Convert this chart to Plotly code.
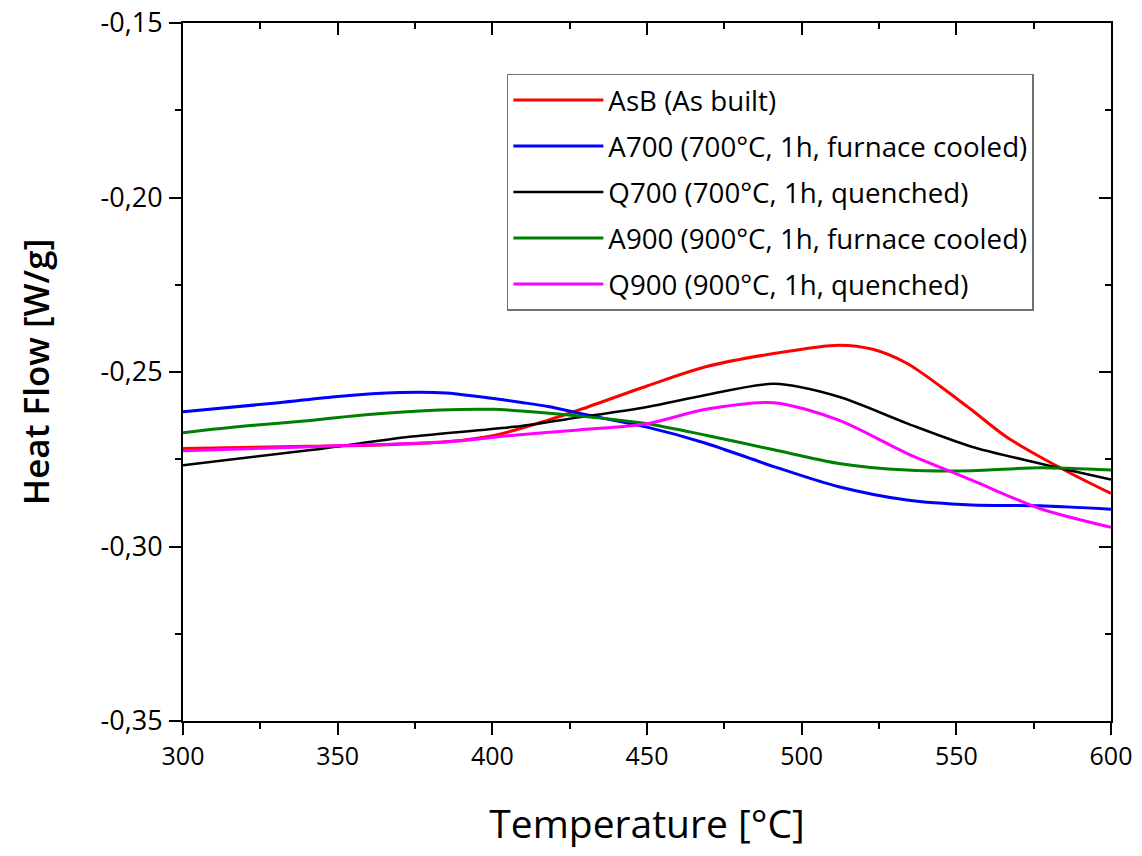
import plotly.graph_objects as go

# ---- data (Temperature in °C, Heat Flow in W/g) ----
T_asb = [300, 340, 364, 385, 401, 418, 428, 450, 469, 491, 512, 523, 534, 545, 555, 566, 577, 588, 600]
HF_asb = [-0.2719, -0.2713, -0.2709, -0.2700, -0.2681, -0.2638, -0.2609, -0.2540, -0.2485, -0.2447,
          -0.2423, -0.2435, -0.2475, -0.2542, -0.2609, -0.2685, -0.2743, -0.2795, -0.2848]

T_a700 = [300, 331, 350, 370, 385, 396, 410, 418, 428, 440, 450, 469, 491, 512, 534, 555, 577, 600]
HF_a700 = [-0.2614, -0.2588, -0.2570, -0.2559, -0.2560, -0.2571, -0.2588, -0.2599, -0.2618, -0.2640,
           -0.2658, -0.2704, -0.2771, -0.2829, -0.2867, -0.2881, -0.2883, -0.2893]

T_q700 = [300, 342, 374, 407, 428, 450, 469, 491, 512, 534, 555, 577, 600]
HF_q700 = [-0.2767, -0.2723, -0.2685, -0.2657, -0.2630, -0.2600, -0.2566, -0.2534, -0.2571, -0.2647,
           -0.2714, -0.2762, -0.2808]

T_a900 = [300, 320, 342, 360, 383, 400, 407, 428, 450, 469, 491, 512, 534, 555, 577, 600]
HF_a900 = [-0.2674, -0.2655, -0.2638, -0.2622, -0.2609, -0.2607, -0.2610, -0.2626, -0.2648, -0.2681,
           -0.2723, -0.2762, -0.2781, -0.2783, -0.2774, -0.2781]

T_q900 = [300, 342, 385, 407, 428, 450, 469, 491, 512, 534, 555, 577, 600]
HF_q900 = [-0.2726, -0.2714, -0.2700, -0.2681, -0.2666, -0.2648, -0.2607, -0.2588, -0.2638, -0.2733,
           -0.2810, -0.2891, -0.2945]

names = ["AsB (As built)",
         "A700 (700°C, 1h, furnace cooled)",
         "Q700 (700°C, 1h, quenched)",
         "A900 (900°C, 1h, furnace cooled)",
         "Q900 (900°C, 1h, quenched)"]
series_T = [T_asb, T_a700, T_q700, T_a900, T_q900]
series_HF = [HF_asb, HF_a700, HF_q700, HF_a900, HF_q900]
colors = ["#FF0000", "#0000FF", "#000000", "#008000", "#FF00FF"]
widths = [3, 3, 2.5, 3, 3]

x_range = [300, 600]
y_range = [-0.35, -0.15]
y_tickvals = [-0.35, -0.30, -0.25, -0.20, -0.15]
y_ticktext = ["-0,35", "-0,30", "-0,25", "-0,20", "-0,15"]

FONT = "Open Sans"

fig = go.Figure()
for i in range(5):
    fig.add_trace(go.Scatter(
        x=series_T[i], y=series_HF[i], name=names[i], mode="lines",
        line=dict(color=colors[i], width=widths[i], shape="spline", smoothing=0.8),
        legendgroup=f"g{i}",
    ))

# empty helper traces so the mirrored top/right axes (inward ticks) get drawn
fig.add_trace(go.Scatter(x=[], y=[], xaxis="x2", yaxis="y", showlegend=False, hoverinfo="skip"))
fig.add_trace(go.Scatter(x=[], y=[], xaxis="x", yaxis="y2", showlegend=False, hoverinfo="skip"))

line_common = dict(showline=True, linecolor="black", linewidth=2, showgrid=False, zeroline=False,
                   tickcolor="black", tickwidth=2, ticklen=12, automargin=False)

fig.update_layout(
    width=1142, height=856,
    margin=dict(l=183, r=31, t=23, b=135),
    paper_bgcolor="white", plot_bgcolor="white",
    separators=",.",
    font=dict(family=FONT, color="black"),
    xaxis=dict(**line_common, ticks="outside", range=x_range, dtick=50, tick0=300,
               minor=dict(dtick=25, tick0=300, ticklen=6, tickwidth=2, tickcolor="black", ticks="outside"),
               tickfont=dict(size=25, family=FONT),
               title=dict(text="Temperature [°C]", font=dict(size=39, family=FONT), standoff=40)),
    yaxis=dict(**line_common, ticks="outside", range=y_range, tickmode="array",
               tickvals=y_tickvals, ticktext=y_ticktext,
               minor=dict(tickmode="linear", dtick=0.025, tick0=-0.35, ticklen=6, tickwidth=2,
                          tickcolor="black", ticks="outside"),
               tickfont=dict(size=27, family=FONT), ticklabelstandoff=1,
               title=dict(text="Heat Flow [W/g]", font=dict(size=35, family=FONT, weight=600), standoff=40)),
    xaxis2=dict(**line_common, overlaying="x", side="top", anchor="y", range=x_range, dtick=50, tick0=300,
                ticks="inside", showticklabels=False,
                minor=dict(dtick=25, tick0=300, ticklen=6, tickwidth=2, tickcolor="black", ticks="inside")),
    yaxis2=dict(**line_common, overlaying="y", side="right", anchor="x", range=y_range,
                tickmode="array", tickvals=y_tickvals, ticks="inside", showticklabels=False,
                minor=dict(tickmode="linear", dtick=0.025, tick0=-0.35, ticklen=6, tickwidth=2,
                           tickcolor="black", ticks="inside")),
    legend=dict(x=0.349, y=0.927, xanchor="left", yanchor="top",
                bordercolor="#707070", borderwidth=1.5, bgcolor="white",
                font=dict(size=27.7, family=FONT), itemwidth=90, tracegroupgap=7),
    showlegend=True,
)

fig.write_html("out.html")
